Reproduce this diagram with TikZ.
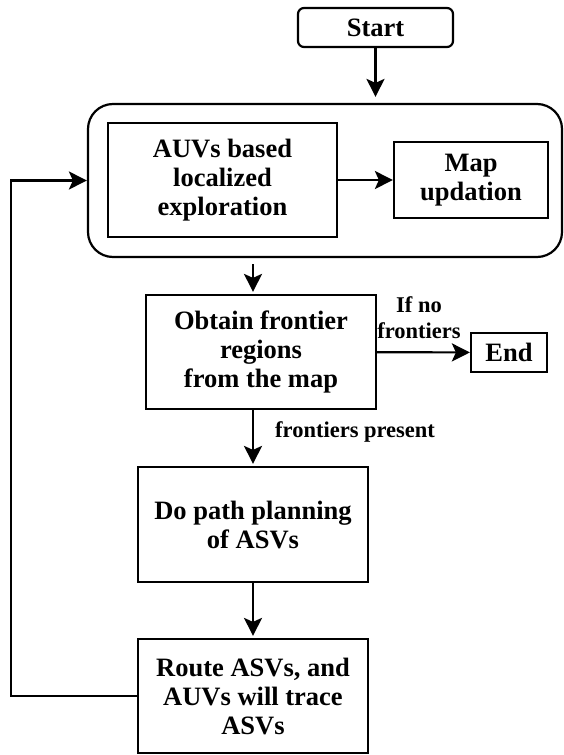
\documentclass[tikz,border=0pt]{standalone}
\usepackage{fontspec}
\setmainfont{Liberation Serif}
\usepackage{tikz}
\usetikzlibrary{positioning,arrows.meta,calc}
\tikzset{
  box/.style={draw,line width=2.2pt,align=center,inner sep=0pt,
    font=\fontsize{26.5}{29}\selectfont\bfseries},
  arr/.style={line width=2.2pt,-{Stealth[length=18pt,width=18pt,inset=4pt]}},
  lbl/.style={align=center,inner sep=0pt,font=\fontsize{22.5}{26}\selectfont\bfseries}
}

\begin{document}
\begin{tikzpicture}[x=1pt,y=-1pt]
\useasboundingbox (0,0) rectangle (563,755);
% Top part
\node[box,rounded corners=6pt,minimum width=155pt,minimum height=39pt] (start) at (375.5,27.5) {Start};
\node[box,rounded corners=25pt,minimum width=474pt,minimum height=153pt] (cont) at (325,180.5) {};
\node[box,minimum width=229pt,minimum height=114pt] (auv) at (222.5,180) {AUVs based\\localized\\exploration};
\node[box,minimum width=154pt,minimum height=76pt] (map) at (471,180) {Map\\updation};

% Frontiers
\node[box,minimum width=230pt,minimum height=114pt] (obtain) at (261,352) {Obtain frontier\\regions\\from the map};
\node[box,minimum width=76pt,minimum height=39pt] (end) at (509,352.5) {End};
\node[lbl] (nofr) at (419,318) {If no\\frontiers};

% Path planning
\node[box,minimum width=230pt,minimum height=115pt] (path) at (253,524.5) {Do path planning\\of ASVs};
\node[box,minimum width=230pt,minimum height=114pt] (route) at (253,696) {Route ASVs, and\\AUVs will trace\\ASVs};
\node[lbl,anchor=base west] (pres) at (275,437) {frontiers present};
\coordinate (back) at (11,696);

\draw[arr,shorten >=6pt] (start) -- (start |- cont.north);
\draw[arr] (auv) -- (map);
\draw[arr,shorten <=6pt,shorten >=2pt] (cont.south -| path) -- (obtain.north -| path);
\draw[arr] (obtain) -- (end);
\draw[arr,shorten >=2pt] (obtain.south -| path) -- (path);
\draw[arr,shorten >=2pt] (path) -- (route);
\draw[arr] (route.west) -- (back) |- (cont.west);
\end{tikzpicture}
\end{document}
